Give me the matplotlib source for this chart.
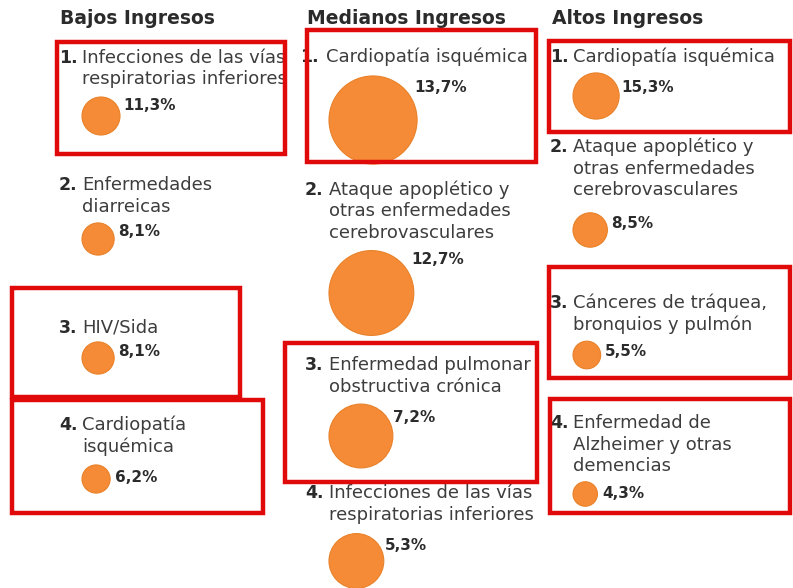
import numpy as np
import matplotlib.pyplot as plt
from matplotlib.patches import Circle, Rectangle

plt.rcParams['font.family'] = ['DejaVu Sans']

# --------------------------------------------------------------
# DATA: principales causas de muerte por nivel de ingresos (%)
groups = ["Bajos Ingresos", "Medianos Ingresos", "Altos Ingresos"]

bajos_causes = ["Infecciones de las vías\nrespiratorias inferiores",
                "Enfermedades\ndiarreicas",
                "HIV/Sida",
                "Cardiopatía\nisquémica"]
bajos_values = [11.3, 8.1, 8.1, 6.2]

medianos_causes = ["Cardiopatía isquémica",
                   "Ataque apoplético y\notras enfermedades\ncerebrovasculares",
                   "Enfermedad pulmonar\nobstructiva crónica",
                   "Infecciones de las vías\nrespiratorias inferiores"]
medianos_values = [13.7, 12.7, 7.2, 5.3]

altos_causes = ["Cardiopatía isquémica",
                "Ataque apoplético y\notras enfermedades\ncerebrovasculares",
                "Cánceres de tráquea,\nbronquios y pulmón",
                "Enfermedad de\nAlzheimer y otras\ndemencias"]
altos_values = [15.3, 8.5, 5.5, 4.3]

# --------------------------------------------------------------
# LAYOUT (pixel coordinates, y down)
W, H = 793, 588
num_x = [59, 305, 550]
text_x = [82, 329, 573]
header_x = [60, 307, 552]
# the first label in the middle column sits a bit further left,
# its number is half hidden behind the box edge
label_dx = {(1, 0): -3}
num_dx = {(1, 0): -5}
# radius scale per column (area proportional to value)
rscale = [5.65, 11.9, 5.9]
label_y = [[58, 185, 328, 425], [57, 190, 365, 493], [57, 147, 303, 423]]
circle_y = [[116, 239, 358, 479], [120, 293, 436, 561], [96, 230, 355, 494]]
pct_y = [[105, 232, 352, 477], [88, 260, 417, 545], [88, 223, 352, 493]]
# highlighted boxes: x0, y0, x1, y1
boxes = [(57, 42, 285, 154), (307, 30, 536, 162), (549, 41, 790, 132),
         (12, 288, 240, 397), (12, 400, 263, 513), (285, 343, 537, 482),
         (549, 267, 790, 378), (550, 399, 790, 513)]

orange = "#f58b36"
textc = "#3d3d3d"
darkc = "#2b2b2b"
line_h = 21.5

fig = plt.figure(figsize=(W / 100, H / 100), dpi=100)
ax = fig.add_axes([0, 0, 1, 1])
ax.set_xlim(0, W)
ax.set_ylim(H, 0)
ax.set_aspect("equal")
ax.axis("off")

columns = [(bajos_causes, bajos_values), (medianos_causes, medianos_values),
           (altos_causes, altos_values)]

for j, (causes, values) in enumerate(columns):
    ax.text(header_x[j], 18, groups[j], fontsize=13.5, fontweight="bold",
            color=darkc, va="center", ha="left")
    for i, (cause, val) in enumerate(zip(causes, values)):
        y0 = label_y[j][i]
        dx = label_dx.get((j, i), 0)
        ax.text(num_x[j] + num_dx.get((j, i), 0), y0, f"{i + 1}.", fontsize=12.5,
                fontweight="bold", color=darkc, va="center", ha="left", zorder=2)
        for k, line in enumerate(cause.split("\n")):
            ax.text(text_x[j] + dx, y0 + k * line_h, line, fontsize=13,
                    color=textc, va="center", ha="left", zorder=2)
        r = rscale[j] * np.sqrt(val)
        cx = text_x[j] + r
        cy = circle_y[j][i]
        ax.add_patch(Circle((cx, cy), r, facecolor=orange,
                            edgecolor="#e98129", linewidth=0.8, zorder=3))
        ax.text(cx + 0.75 * r + 8, pct_y[j][i], f"{val:.1f}".replace(".", ",") + "%",
                fontsize=11, fontweight="bold", color=darkc,
                va="center", ha="left", zorder=4)

for x0, y0, x1, y1 in boxes:
    ax.add_patch(Rectangle((x0, y0), x1 - x0, y1 - y0, fill=False,
                           edgecolor="#e00a0a", linewidth=3.2, zorder=5))

fig.savefig("out.png", dpi=100, facecolor="white")
